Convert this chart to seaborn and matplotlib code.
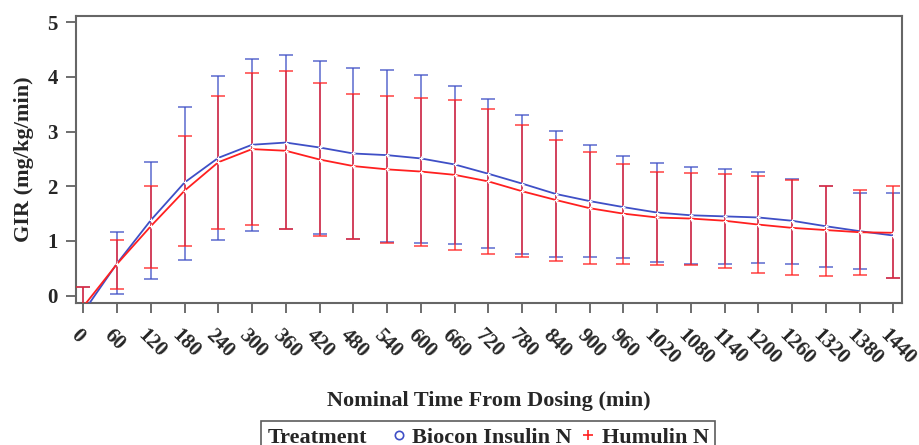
import pandas as pd
import seaborn as sns
import matplotlib.pyplot as plt
import matplotlib.transforms as mtransforms
from matplotlib.lines import Line2D
from matplotlib.offsetbox import HPacker

times = [0, 60, 120, 180, 240, 300, 360, 420, 480, 540, 600, 660, 720,
         780, 840, 900, 960, 1020, 1080, 1140, 1200, 1260, 1320, 1380, 1440]

biocon_mean = [-0.30, 0.59, 1.38, 2.07, 2.52, 2.76, 2.80, 2.71, 2.60, 2.57, 2.51, 2.40, 2.23,
               2.05, 1.86, 1.73, 1.62, 1.52, 1.47, 1.45, 1.43, 1.37, 1.27, 1.18, 1.10]
biocon_upper = [0.15, 1.17, 2.44, 3.45, 4.02, 4.33, 4.40, 4.29, 4.17, 4.12, 4.04, 3.84, 3.59,
                3.31, 3.01, 2.76, 2.56, 2.43, 2.36, 2.31, 2.27, 2.13, 2.00, 1.88, 1.87]
biocon_lower = [-0.75, 0.03, 0.30, 0.65, 1.01, 1.19, 1.22, 1.13, 1.04, 0.99, 0.96, 0.95, 0.87,
                0.77, 0.70, 0.70, 0.68, 0.61, 0.57, 0.58, 0.59, 0.58, 0.53, 0.48, 0.32]

humulin_mean = [-0.20, 0.58, 1.27, 1.92, 2.44, 2.68, 2.65, 2.49, 2.37, 2.31, 2.27, 2.21, 2.09,
                1.91, 1.75, 1.60, 1.50, 1.43, 1.41, 1.37, 1.30, 1.24, 1.20, 1.16, 1.15]
humulin_upper = [0.165, 1.02, 2.01, 2.92, 3.66, 4.07, 4.10, 3.89, 3.68, 3.65, 3.62, 3.58, 3.42,
                 3.13, 2.85, 2.62, 2.41, 2.27, 2.24, 2.23, 2.19, 2.12, 2.00, 1.94, 2.00]
humulin_lower = [-0.57, 0.12, 0.51, 0.90, 1.21, 1.30, 1.21, 1.10, 1.04, 0.97, 0.91, 0.84, 0.77,
                 0.70, 0.63, 0.58, 0.57, 0.56, 0.56, 0.50, 0.42, 0.37, 0.36, 0.37, 0.33]

treatments = ["Biocon Insulin N", "Humulin N"]
blue = "#3f4fc6"
red = "#ff2020"

df = pd.DataFrame({
    "time": times * 2,
    "gir": biocon_mean + humulin_mean,
    "treatment": [treatments[0]] * len(times) + [treatments[1]] * len(times),
})

sns.set_style("white")
plt.rcParams["font.family"] = ["Liberation Serif", "DejaVu Serif"]
plt.rcParams["font.weight"] = "bold"

fig = plt.figure(figsize=(9.2, 4.45), dpi=100)
ax = fig.add_axes([0.0826, 0.3184, 0.8978, 0.6463])

# error bars first, red ones on top of blue
for mean, up, lo, col, z in [(biocon_mean, biocon_upper, biocon_lower, blue, 2),
                             (humulin_mean, humulin_upper, humulin_lower, red, 3)]:
    yerr = [[m - l for m, l in zip(mean, lo)], [u - m for m, u in zip(mean, up)]]
    ax.errorbar(times, mean, yerr=yerr, fmt="none", ecolor=col, elinewidth=1.1,
                capsize=5, capthick=1.1, alpha=0.85, zorder=z)

sns.lineplot(data=df, x="time", y="gir", hue="treatment",
             palette={treatments[0]: blue, treatments[1]: red},
             linewidth=1.3, marker="+", markersize=3, markeredgewidth=0.8,
             legend=False, ax=ax, zorder=4)

ax.set_xlim(-13, 1455.5)
ax.set_ylim(-0.14, 5.12)
ax.set_xticks(times)
ax.set_yticks(range(0, 6))
ax.tick_params(axis="both", direction="out", length=7, width=1.2, color="#555555",
               left=True, bottom=True)
ax.tick_params(axis="x", pad=14)
ax.tick_params(axis="y", pad=6)
ax.set_xticklabels([str(t) for t in times], rotation=-45, ha="left", va="center",
                   rotation_mode="anchor", fontsize=15, fontweight="bold")
ax.set_yticklabels([str(v) for v in range(0, 6)], fontsize=15, fontweight="bold")
shift = mtransforms.ScaledTranslation(-10 / 100, 0, fig.dpi_scale_trans)
for lab in ax.get_xticklabels():
    lab.set_transform(lab.get_transform() + shift)

for s in ax.spines.values():
    s.set_color("#666666")
    s.set_linewidth(1.5)

ax.set_xlabel("Nominal Time From Dosing (min)", fontsize=16, fontweight="bold", labelpad=16)
ax.set_ylabel("GIR (mg/kg/min)", fontsize=16, fontweight="bold", labelpad=10)

handles = [
    Line2D([], [], linestyle="none", marker="o", markersize=6, markerfacecolor="none",
           markeredgecolor=blue, markeredgewidth=1.2),
    Line2D([], [], linestyle="none", marker="+", markersize=7, markeredgecolor=red,
           markeredgewidth=1.2),
]
leg = fig.legend(handles, treatments, ncol=2, title="Treatment",
                 title_fontproperties={"size": 16, "weight": "bold"},
                 loc="upper center", bbox_to_anchor=(0.5304, 0.0539), borderaxespad=0,
                 frameon=True, fancybox=False, edgecolor="#333333",
                 prop={"size": 16, "weight": "bold"},
                 handlelength=0.6, handletextpad=0.3, columnspacing=0.45, borderpad=0.3)
leg.get_frame().set_linewidth(1.2)

# put the title on the same row as the entries
old_box = leg._legend_box
new_box = HPacker(pad=old_box.pad, sep=18, align="baseline",
                  children=[leg._legend_title_box, leg._legend_handle_box])
new_box.set_figure(fig)
new_box.set_offset(leg._findoffset)
leg._legend_box = new_box

fig.savefig("out.png", dpi=100)
